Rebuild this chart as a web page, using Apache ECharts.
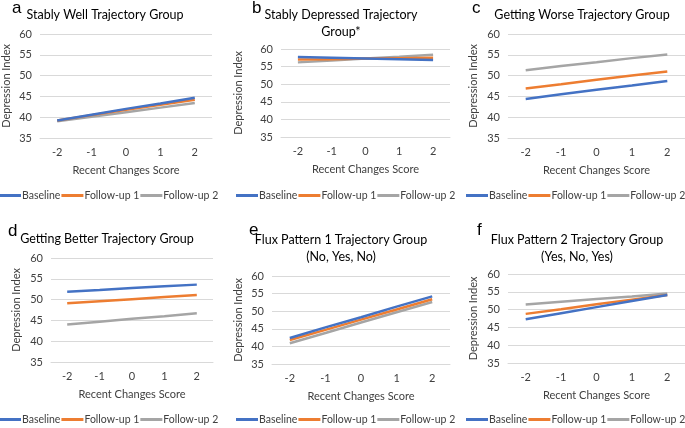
<!DOCTYPE html>
<html>
<head>
<meta charset="utf-8">
<script src="https://cdn.jsdelivr.net/npm/echarts@6/dist/echarts.min.js"></script>
<style>
  html, body { margin: 0; padding: 0; background: #fff; }
  #chart { width: 685px; height: 428px; }
</style>
</head>
<body>
<div id="chart"></div>
<script>
var categories = ['-2', '-1', '0', '1', '2'];
var seriesNames = ['Baseline', 'Follow-up 1', 'Follow-up 2'];
var panelLetters = ['a', 'b', 'c', 'd', 'e', 'f'];
var panelTitles = [
  'Stably Well Trajectory Group',
  'Stably Depressed Trajectory\nGroup*',
  'Getting Worse Trajectory Group',
  'Getting Better Trajectory Group',
  'Flux Pattern 1 Trajectory Group\n(No, Yes, No)',
  'Flux Pattern 2 Trajectory Group\n(Yes, No, Yes)'
];
var yTicks = [35, 40, 45, 50, 55, 60];

// a - stably well
var wellBase = [39.2, 40.6, 42.0, 43.3, 44.7];
var wellFu1 = [39.2, 40.5, 41.8, 43.0, 44.2];
var wellFu2 = [39.0, 40.1, 41.2, 42.3, 43.4];
// b - stably depressed
var deprBase = [57.7, 57.5, 57.3, 57.1, 56.9];
var deprFu1 = [57.0, 57.1, 57.3, 57.4, 57.5];
var deprFu2 = [56.2, 56.7, 57.3, 57.8, 58.4];
// c - getting worse
var worseBase = [44.4, 45.5, 46.6, 47.6, 48.7];
var worseFu1 = [46.9, 47.9, 49.0, 50.0, 51.0];
var worseFu2 = [51.3, 52.3, 53.2, 54.2, 55.1];
// d - getting better
var betterBase = [51.9, 52.3, 52.8, 53.2, 53.6];
var betterFu1 = [49.1, 49.6, 50.1, 50.6, 51.1];
var betterFu2 = [44.0, 44.7, 45.4, 46.0, 46.7];
// e - flux pattern 1
var flux1Base = [42.4, 45.4, 48.3, 51.3, 54.2];
var flux1Fu1 = [41.8, 44.7, 47.6, 50.5, 53.4];
var flux1Fu2 = [40.9, 43.8, 46.8, 49.7, 52.6];
// f - flux pattern 2
var flux2Base = [47.3, 49.0, 50.7, 52.4, 54.1];
var flux2Fu1 = [48.8, 50.1, 51.5, 52.8, 54.1];
var flux2Fu2 = [51.4, 52.2, 53.0, 53.7, 54.5];

var panelData = [
  [wellBase, wellFu1, wellFu2],
  [deprBase, deprFu1, deprFu2],
  [worseBase, worseFu1, worseFu2],
  [betterBase, betterFu1, betterFu2],
  [flux1Base, flux1Fu1, flux1Fu2],
  [flux2Base, flux2Fu1, flux2Fu2]
];

var colors = ['#4472C4', '#ED7D31', '#A5A5A5'];
var font = 'Lato';

// layout per panel (pixels)
var grids = [
  {left: 35, top: 34, width: 177, height: 104},
  {left: 281, top: 49, width: 169, height: 88},
  {left: 508, top: 34, width: 177, height: 104},
  {left: 51, top: 258, width: 162, height: 104},
  {left: 272, top: 276, width: 178, height: 88},
  {left: 508, top: 274, width: 177, height: 89}
];
var yNameGaps = [28, 37, 29, 29, 28, 29];
var titlePos = [[105, 6], [341, 6], [582, 6], [107, 230], [341, 231], [577, 231]];
var letterPos = [[12, 0], [252, 0], [472, 0], [8, 223], [249, 222], [477, 222]];
var legendPos = [[-1, 190], [236, 190], [466, 190], [-1, 414], [236, 414], [466, 414]];

var titles = [], xAxes = [], yAxes = [], series = [], legends = [];
for (var i = 0; i < 6; i++) {
  titles.push({
    text: panelTitles[i], left: titlePos[i][0], top: titlePos[i][1], textAlign: 'center', padding: 0,
    textStyle: {fontFamily: font, fontSize: 12.5, fontWeight: 'normal', color: '#000', lineHeight: 17}
  });
  titles.push({
    text: panelLetters[i], left: letterPos[i][0], top: letterPos[i][1], padding: 0,
    textStyle: {fontFamily: 'Liberation Sans', fontSize: 17, fontWeight: 'normal', color: '#000'}
  });
  xAxes.push({
    type: 'category', gridIndex: i, data: categories, boundaryGap: true,
    name: 'Recent Changes Score', nameLocation: 'middle', nameGap: 27,
    nameTextStyle: {fontFamily: font, fontSize: 11, color: '#404040'},
    axisLine: {lineStyle: {color: '#d9d9d9'}}, axisTick: {show: false},
    axisLabel: {fontFamily: font, fontSize: 11, color: '#404040', margin: 9}
  });
  yAxes.push({
    type: 'value', gridIndex: i, min: yTicks[0], max: yTicks[yTicks.length - 1], interval: 5,
    name: 'Depression Index', nameLocation: 'middle', nameGap: yNameGaps[i],
    nameTextStyle: {fontFamily: font, fontSize: 11, color: '#404040'},
    axisLine: {show: false}, axisTick: {show: false},
    axisLabel: {fontFamily: font, fontSize: 11, color: '#404040', margin: 8},
    splitLine: {lineStyle: {color: '#d9d9d9'}}
  });
  for (var s = 0; s < 3; s++) {
    series.push({
      name: seriesNames[s], type: 'line', xAxisIndex: i, yAxisIndex: i,
      data: panelData[i][s], symbol: 'none', color: colors[s],
      lineStyle: {width: 2.5, color: colors[s]}, z: 3 - s, silent: true
    });
  }
  legends.push({
    data: seriesNames, left: legendPos[i][0], top: legendPos[i][1], width: 300, padding: 0,
    icon: 'rect', itemWidth: 22, itemHeight: 3, itemGap: 1, selectedMode: false,
    textStyle: {fontFamily: font, fontSize: 10.5, color: '#404040', padding: [0, 0, 0, -4]}
  });
}

var chart = echarts.init(document.getElementById('chart'), null, {renderer: 'canvas'});
chart.setOption({
  animation: false,
  backgroundColor: '#fff',
  title: titles,
  legend: legends,
  grid: grids,
  xAxis: xAxes,
  yAxis: yAxes,
  series: series
});
</script>
</body>
</html>
